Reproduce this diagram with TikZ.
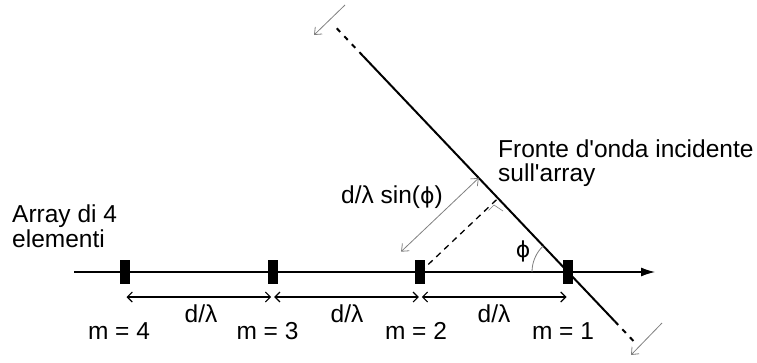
\documentclass[tikz,border=0pt]{standalone}
\usepackage{fontspec}
\setmainfont{Liberation Sans}
\newfontfamily\phifont{DejaVu Sans}
\usetikzlibrary{arrows.meta,calc}
\newcommand{\myphi}{{\phifont\fontsize{22}{26}\selectfont ϕ}}
\begin{document}
\begin{tikzpicture}[x=1pt,y=1pt,
  every node/.style={inner sep=0pt, font=\fontsize{24.5}{26}\selectfont},
  elem/.style={fill=black, draw=none, minimum width=10pt, minimum height=24pt, inner sep=0pt},
  lbl/.style={anchor=base west},
  lblc/.style={anchor=base},
  axisline/.style={line width=1.1pt, -{Latex[length=14pt,width=9pt]}},
  front/.style={line width=2pt},
  frontdash/.style={line width=2pt, dash pattern=on 5pt off 6pt},
  perp/.style={line width=1.3pt, dash pattern=on 6pt off 5pt},
  dimarr/.style={line width=1.1pt, {Straight Barb[length=5pt,width=10pt]}-{Straight Barb[length=5pt,width=10pt]}, shorten <=1.5pt, shorten >=1.5pt},
  greyarr/.style={draw=gray, line width=0.8pt, -{Straight Barb[length=6pt,width=10pt]}},
  greydim/.style={draw=gray, line width=0.8pt, {Straight Barb[length=6pt,width=10pt]}-{Straight Barb[length=6pt,width=10pt]}},
  rmark/.style={draw=gray, line width=0.6pt}
]
\useasboundingbox (0,0) rectangle (757,-362);
% axis and element positions
\coordinate (ax0) at (74,-272);
\coordinate (ax1) at (655,-272);
\coordinate (p4) at (125,-272);
\coordinate (p3) at (272.7,-272);
\coordinate (p2) at (420.3,-272);
\coordinate (p1) at (568,-272);
% wavefront
\coordinate (wtop) at ($(p1)+(133.5:336pt)$);
\coordinate (wst) at ($(p1)+(133.5:298pt)$);
\coordinate (wsb) at ($(p1)+(-46.5:68pt)$);
\coordinate (wbot) at ($(p1)+(-46.5:97pt)$);
\coordinate (foot) at ($(p1)!(p2)!(wtop)$);
\coordinate (da) at ($(p2)+(133.5:28pt)$);
\coordinate (db) at ($(foot)+(133.5:28pt)$);
% propagation arrows
\coordinate (ga0) at (345,-5);
\coordinate (ga1) at (314,-35);
\coordinate (gb0) at (662,-323);
\coordinate (gb1) at (631,-355);
% right angle mark
\coordinate (rm0) at (488.5,-210.5);
\coordinate (rm1) at (494,-205);
\coordinate (rm2) at (503,-211);

\draw[axisline] (ax0) -- (ax1);
\draw[front] (wst) -- (wsb);
\draw[frontdash] (wtop) -- (wst);
\draw[frontdash] (wsb) -- (wbot);
\draw[perp] (p2) -- (foot);
\draw[rmark] (rm0) -- (rm1) -- (rm2);
\draw[greydim] (da) -- (db);
\draw[greyarr] (ga0) -- (ga1);
\draw[greyarr] (gb0) -- (gb1);
\draw[draw=gray, line width=0.8pt] ($(p1)+(180:36pt)$) arc[start angle=180, end angle=133.5, radius=36pt];

\node[elem] (m4) at (p4) {};
\node[elem] (m3) at (p3) {};
\node[elem] (m2) at (p2) {};
\node[elem] (m1) at (p1) {};

\draw[dimarr] ([yshift=-25pt]m4.center) -- ([yshift=-25pt]m3.center);
\draw[dimarr] ([yshift=-25pt]m3.center) -- ([yshift=-25pt]m2.center);
\draw[dimarr] ([yshift=-25pt]m2.center) -- ([yshift=-25pt]m1.center);

\node[lbl] (t1) at (498,-157) {Fronte d\textquotesingle onda incidente};
\node[lbl] (t2) at (498,-181) {sull\textquotesingle array};
\node[lbl] (t3) at (12,-222) {Array di 4};
\node[lbl] (t4) at (12,-247) {elementi};
\node[lbl] (t5) at (341,-203) {d/λ sin(\myphi)};
\node (phi) at (523,-251) {\myphi};
\node[lblc] (d1) at (201,-322) {d/λ};
\node[lblc] (d2) at (347,-322) {d/λ};
\node[lblc] (d3) at (494,-322) {d/λ};
\node[lblc] (l4) at (119,-339) {m = 4};
\node[lblc] (l3) at (267.5,-339) {m = 3};
\node[lblc] (l2) at (416,-339) {m = 2};
\node[lblc] (l1) at (563,-339) {m = 1};
\end{tikzpicture}
\end{document}
